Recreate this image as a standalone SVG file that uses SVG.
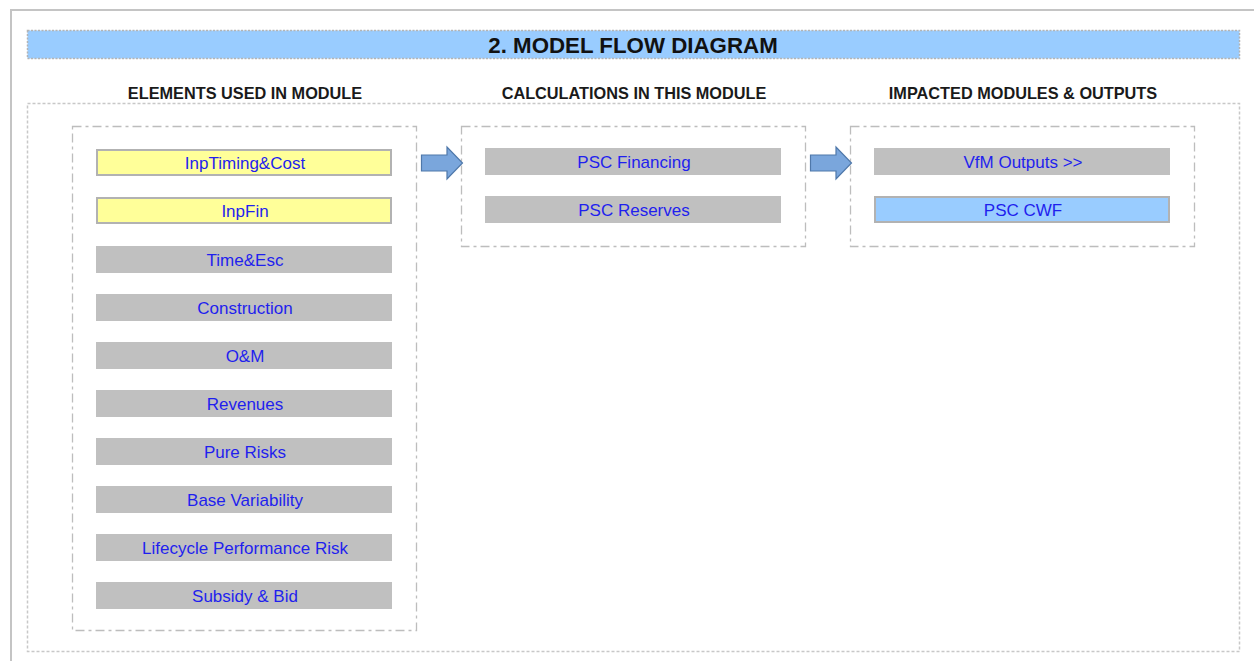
<svg xmlns="http://www.w3.org/2000/svg" width="1254" height="661" viewBox="0 0 1254 661">
  <defs>
    <style>
      .frame { fill: none; stroke: #c4c4c4; stroke-width: 2; }
      .dotted { fill: none; stroke: #c8c8c8; stroke-width: 1.5; stroke-dasharray: 3 2; }
      .group { fill: none; stroke: #bdbdbd; stroke-width: 1.3; stroke-dasharray: 9 4 3 4; }
      .band { fill: #99ccff; stroke: #b4b4b4; stroke-width: 1.5; stroke-dasharray: 2 1.5; }
      .title { font-family: "Liberation Sans", Arial, sans-serif; font-weight: bold; font-size: 22.3px; fill: #111; text-anchor: middle; }
      .head { font-family: "Liberation Sans", Arial, sans-serif; font-weight: bold; font-size: 16.3px; fill: #1a1a1a; text-anchor: middle; }
      .grey { fill: #c0c0c0; }
      .input { fill: #ffff99; stroke: #b2b2b2; stroke-width: 2; }
      .output { fill: #99ccff; stroke: #b2b2b2; stroke-width: 2; }
      .label { font-family: "Liberation Sans", Arial, sans-serif; font-size: 17px; fill: #1f1fee; text-anchor: middle; }
      .flow { fill: #7aa6dc; stroke: #4f78aa; stroke-width: 1.2; stroke-linejoin: miter; }
    </style>
  </defs>

  <rect width="1254" height="661" fill="#ffffff"/>
  <!-- page frame -->
  <path class="frame" d="M1254 10 H11 V661"/>

  <!-- title band -->
  <g id="title">
    <rect class="band" x="27.5" y="30.5" width="1212" height="28"/>
    <text class="title" x="633" y="52.5">2. MODEL FLOW DIAGRAM</text>
  </g>

  <!-- column headings -->
  <text class="head" x="245" y="99">ELEMENTS USED IN MODULE</text>
  <text class="head" x="634" y="99">CALCULATIONS IN THIS MODULE</text>
  <text class="head" x="1023" y="99">IMPACTED MODULES &amp; OUTPUTS</text>

  <!-- content area -->
  <rect class="dotted" x="27.5" y="103.5" width="1212" height="548"/>

  <!-- column containers -->
  <rect id="col-elements" class="group" x="72.5" y="126.5" width="344" height="504"/>
  <rect id="col-calcs" class="group" x="461.5" y="126.5" width="344" height="120"/>
  <rect id="col-impacts" class="group" x="850.5" y="126.5" width="344" height="120"/>

  <!-- elements used -->
  <g id="n-inptiming"><rect class="input" x="97" y="150" width="294" height="25"/><text class="label" x="245" y="168.5">InpTiming&amp;Cost</text></g>
  <g id="n-inpfin"><rect class="input" x="97" y="198" width="294" height="25"/><text class="label" x="245" y="216.5">InpFin</text></g>
  <g id="n-timeesc"><rect class="grey" x="96" y="246" width="296" height="27"/><text class="label" x="245" y="265.5">Time&amp;Esc</text></g>
  <g id="n-construction"><rect class="grey" x="96" y="294" width="296" height="27"/><text class="label" x="245" y="313.5">Construction</text></g>
  <g id="n-om"><rect class="grey" x="96" y="342" width="296" height="27"/><text class="label" x="245" y="361.5">O&amp;M</text></g>
  <g id="n-revenues"><rect class="grey" x="96" y="390" width="296" height="27"/><text class="label" x="245" y="409.5">Revenues</text></g>
  <g id="n-purerisks"><rect class="grey" x="96" y="438" width="296" height="27"/><text class="label" x="245" y="457.5">Pure Risks</text></g>
  <g id="n-basevar"><rect class="grey" x="96" y="486" width="296" height="27"/><text class="label" x="245" y="505.5">Base Variability</text></g>
  <g id="n-lifecycle"><rect class="grey" x="96" y="534" width="296" height="27"/><text class="label" x="245" y="553.5">Lifecycle Performance Risk</text></g>
  <g id="n-subsidy"><rect class="grey" x="96" y="582" width="296" height="27"/><text class="label" x="245" y="601.5">Subsidy &amp; Bid</text></g>

  <!-- calculations -->
  <g id="n-pscfin"><rect class="grey" x="485" y="148" width="296" height="27"/><text class="label" x="634" y="168">PSC Financing</text></g>
  <g id="n-pscres"><rect class="grey" x="485" y="196" width="296" height="27"/><text class="label" x="634" y="216">PSC Reserves</text></g>

  <!-- impacted modules and outputs -->
  <g id="n-vfm"><rect class="grey" x="874" y="148" width="296" height="27"/><text class="label" x="1023" y="168">VfM Outputs &gt;&gt;</text></g>
  <g id="n-psccwf"><rect class="output" x="875" y="197" width="294" height="25"/><text class="label" x="1023" y="216">PSC CWF</text></g>

  <!-- flow arrows -->
  <g id="connectors">
    <path class="flow" d="M421.5 155 H447 V147 L462.5 163 L447 179 V171 H421.5 Z"/>
    <path class="flow" d="M810.5 155 H836 V147 L851.5 163 L836 179 V171 H810.5 Z"/>
  </g>
</svg>
